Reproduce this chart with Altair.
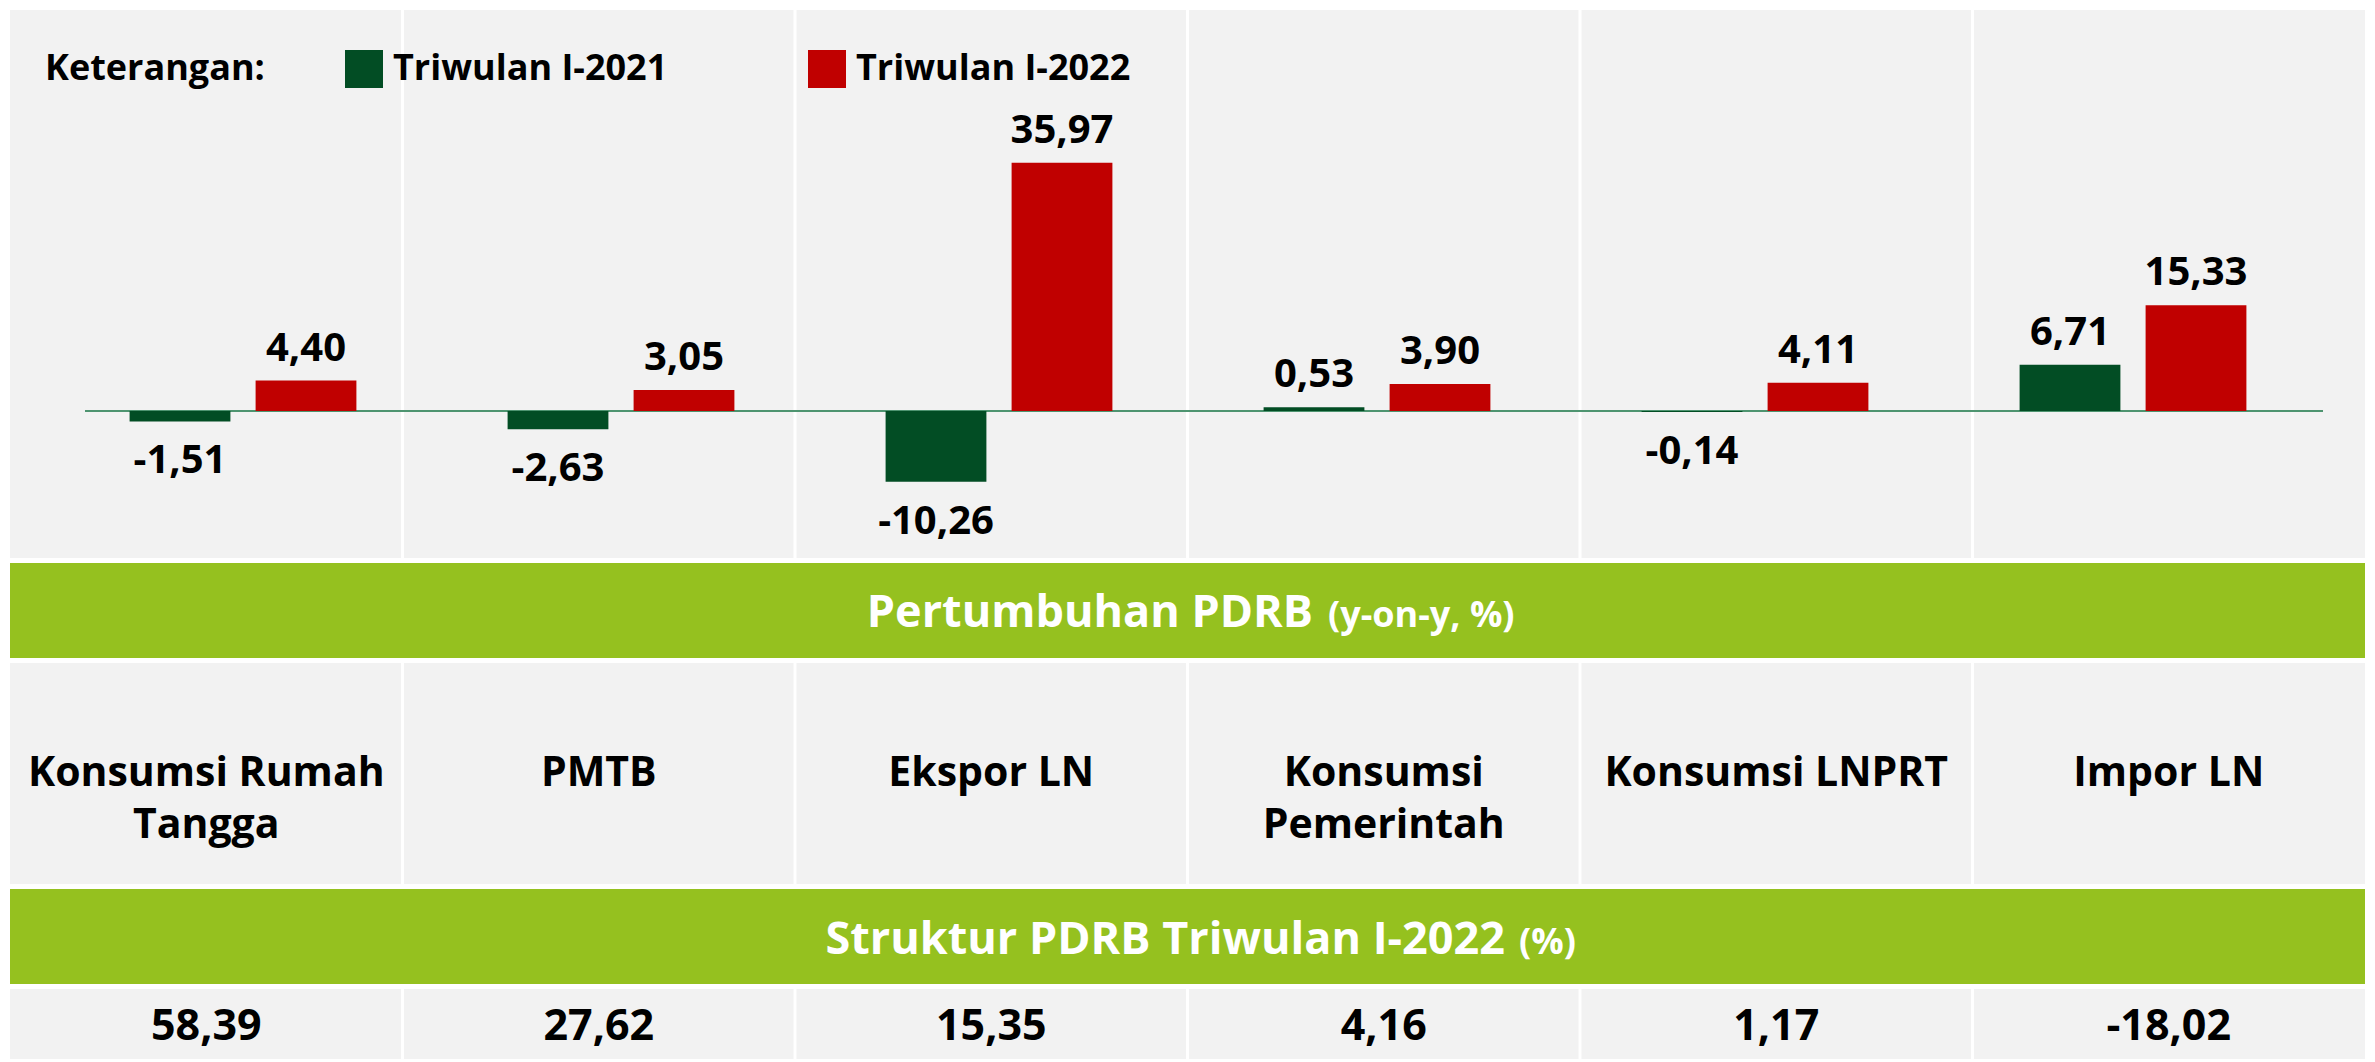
import altair as alt
import pandas as pd

# ---- data ----
categories = ["Konsumsi Rumah Tangga", "PMTB", "Ekspor LN",
              "Konsumsi Pemerintah", "Konsumsi LNPRT", "Impor LN"]
category_labels = ["Konsumsi Rumah\nTangga", "PMTB", "Ekspor LN",
                   "Konsumsi\nPemerintah", "Konsumsi LNPRT", "Impor LN"]
series = ["Triwulan I-2021", "Triwulan I-2022"]
growth_2021 = [-1.51, -2.63, -10.26, 0.53, -0.14, 6.71]
growth_2022 = [4.40, 3.05, 35.97, 3.90, 4.11, 15.33]
structure_2022 = [58.39, 27.62, 15.35, 4.16, 1.17, -18.02]
column_boundaries = [1, 2, 3, 4, 5]


def fmt(v):
    return f"{v:.2f}".replace(".", ",")


rows = []
for c, a, b in zip(categories, growth_2021, growth_2022):
    rows.append({"cat": c, "series": series[0], "value": a, "label": fmt(a)})
    rows.append({"cat": c, "series": series[1], "value": b, "label": fmt(b)})
growth = pd.DataFrame(rows)

labels_df = pd.DataFrame({"cat": categories, "text": category_labels})
struct_df = pd.DataFrame({"cat": categories, "text": [fmt(v) for v in structure_2022]})
bounds_df = pd.DataFrame({"b": column_boundaries})

# ---- style ----
FONT = "Open Sans"
GRAY = "#F2F2F2"
LIME = "#95C11F"
DARK_GREEN = "#024D24"
RED = "#C00000"
W = 2355
H_CHART = 548
H_BAND = 95
H_LAB = 221
H_VAL = 70

y_scale = alt.Scale(domain=[-21.3, 58.1], nice=False, zero=False)
x_bar = alt.X("cat:N", sort=categories, axis=None,
              scale=alt.Scale(domain=categories, range=[44, 2312],
                              paddingInner=0.4, paddingOuter=0.2))
x_off = alt.XOffset("series:N", sort=series,
                    scale=alt.Scale(domain=series, paddingInner=0.2, paddingOuter=0))
x_cols = alt.X("b:Q", axis=None, scale=alt.Scale(domain=[0, 6], nice=False, zero=False))
x_cat = alt.X("cat:N", sort=categories, axis=None,
              scale=alt.Scale(domain=categories, paddingInner=0, paddingOuter=0))

dividers = alt.Chart(bounds_df).mark_rule(color="white", strokeWidth=3).encode(x=x_cols)

zero_line = alt.Chart(pd.DataFrame({"z": [0]})).mark_rule(
    color="#4E9470", strokeWidth=2
).encode(y=alt.Y("z:Q", scale=y_scale, axis=None), x=alt.value(75), x2=alt.value(2313))

legend = alt.Legend(
    orient="none", legendX=35, legendY=40, direction="horizontal",
    title="Keterangan:", titleOrient="left", titleFont=FONT, titleFontSize=36,
    titleFontWeight="bold", titleColor="black", titlePadding=80, titleLimit=600,
    labelFont=FONT, labelFontSize=36, labelFontWeight="bold", labelColor="black",
    labelLimit=600, labelOffset=10, symbolType="square", symbolSize=1444,
    symbolStrokeWidth=0, symbolOpacity=1, columnPadding=140,
)

bars = alt.Chart(growth).mark_bar().encode(
    x=x_bar, xOffset=x_off,
    y=alt.Y("value:Q", scale=y_scale, axis=None),
    color=alt.Color("series:N", sort=series,
                    scale=alt.Scale(domain=series, range=[DARK_GREEN, RED]),
                    legend=legend),
)

pos_labels = alt.Chart(growth).transform_filter("datum.value >= 0").mark_text(
    font=FONT, fontSize=40, fontWeight="bold", color="black",
    baseline="alphabetic", dy=-20,
).encode(x=x_bar, xOffset=x_off, y=alt.Y("value:Q", scale=y_scale, axis=None), text="label:N")

neg_labels = alt.Chart(growth).transform_filter("datum.value < 0").mark_text(
    font=FONT, fontSize=40, fontWeight="bold", color="black",
    baseline="alphabetic", dy=52,
).encode(x=x_bar, xOffset=x_off, y=alt.Y("value:Q", scale=y_scale, axis=None), text="label:N")

chart_panel = alt.layer(dividers, zero_line, bars, pos_labels, neg_labels).resolve_scale(
    x="independent"
).properties(width=W, height=H_CHART,
             view=alt.ViewBackground(fill=GRAY, stroke="transparent"))


def band(big, small, x_big, x_small, y_base):
    t1 = alt.Chart(pd.DataFrame({"t": [big]})).mark_text(
        font=FONT, fontSize=45, fontWeight="bold", color="white",
        align="right", baseline="alphabetic",
    ).encode(x=alt.value(x_big), y=alt.value(y_base), text="t:N")
    t2 = alt.Chart(pd.DataFrame({"t": [small]})).mark_text(
        font=FONT, fontSize=36, fontWeight="bold", color="white",
        align="left", baseline="alphabetic",
    ).encode(x=alt.value(x_small), y=alt.value(y_base), text="t:N")
    return alt.layer(t1, t2).properties(
        width=W, height=H_BAND,
        view=alt.ViewBackground(fill=LIME, stroke="transparent"))


band1 = band("Pertumbuhan PDRB", "(y-on-y, %)", 1303, 1318, 64)
band2 = band("Struktur PDRB Triwulan I-2022", "(%)", 1495, 1509, 65)

lab_text = alt.Chart(labels_df).mark_text(
    font=FONT, fontSize=41, fontWeight="bold", color="black",
    lineBreak="\n", lineHeight=52, baseline="middle",
).encode(x=x_cat, y=alt.value(H_LAB / 2), text="text:N")

labels_panel = alt.layer(dividers, lab_text).resolve_scale(x="independent").properties(
    width=W, height=H_LAB, view=alt.ViewBackground(fill=GRAY, stroke="transparent"))

val_text = alt.Chart(struct_df).mark_text(
    font=FONT, fontSize=43, fontWeight="bold", color="black", baseline="alphabetic",
).encode(x=x_cat, y=alt.value(51), text="text:N")

values_panel = alt.layer(dividers, val_text).resolve_scale(x="independent").properties(
    width=W, height=H_VAL, view=alt.ViewBackground(fill=GRAY, stroke="transparent"))

chart = alt.vconcat(
    chart_panel, band1, labels_panel, band2, values_panel, spacing=3
).properties(
    padding={"left": 2, "top": 0, "right": 0, "bottom": 0}
).configure_view(strokeWidth=0)

chart.save("out.html", embed_options={"renderer": "svg", "actions": False})
